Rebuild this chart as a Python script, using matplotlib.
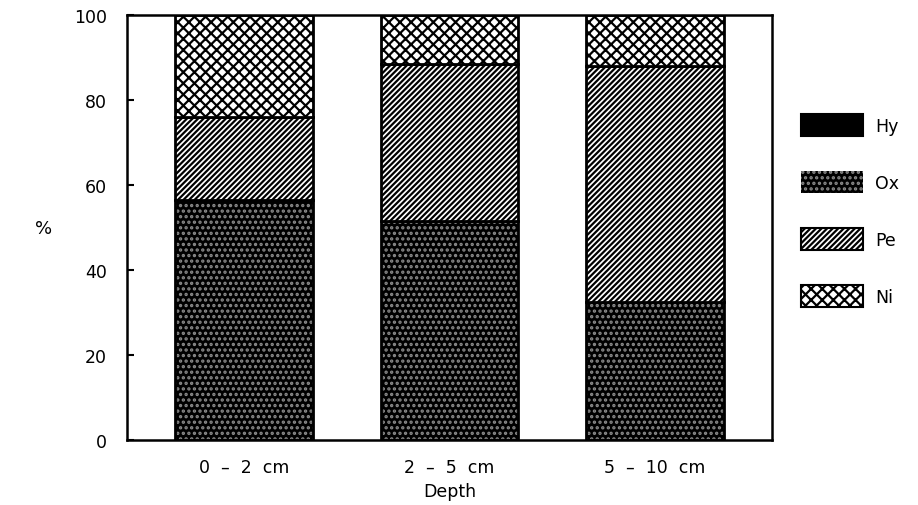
import matplotlib
matplotlib.use("Agg")
import matplotlib.pyplot as plt
from matplotlib.patches import Patch
import numpy as np

categories = ["0  \u2013  2  cm", "2  \u2013  5  cm", "5  \u2013  10  cm"]
hy = [0.0, 0.0, 0.0]
ox = [56.5, 51.5, 32.5]
pe = [19.5, 37.0, 55.5]
ni = [24.0, 11.5, 12.0]
series_names = ["Hy", "Ox", "Pe", "Ni"]
y_ticks = [0, 20, 40, 60, 80, 100]

plt.rcParams['font.family'] = ['DejaVu Sans']
plt.rcParams['hatch.linewidth'] = 1.6

fig = plt.figure(figsize=(9.18, 5.06), dpi=100)
ax = fig.add_axes([0.138, 0.128, 0.703, 0.840])

x = np.arange(len(categories))
w = 0.67
bottom = np.zeros(len(categories))

dot_color = '#8a8a8a'

# Hy (solid black)
ax.bar(x, hy, w, bottom=bottom, color='black', edgecolor='black', linewidth=1.5)
bottom += np.array(hy)
# Ox (black with light dots)
ax.bar(x, ox, w, bottom=bottom, color='black', edgecolor=dot_color, hatch='...', linewidth=0)
ax.bar(x, ox, w, bottom=bottom, color='none', edgecolor='black', linewidth=2)
bottom += np.array(ox)
# Pe (diagonal hatch)
ax.bar(x, pe, w, bottom=bottom, color='white', edgecolor='black', hatch='//////', linewidth=2)
bottom += np.array(pe)
# Ni (cross hatch)
ax.bar(x, ni, w, bottom=bottom, color='white', edgecolor='black', hatch='xxx', linewidth=2)

ax.set_xlim(-0.57, 2.57)
ax.set_ylim(0, 100)
ax.set_yticks(y_ticks)
ax.set_yticklabels([str(t) for t in y_ticks], fontsize=12.5)
ax.set_xticks(x)
ax.set_xticklabels(categories, fontsize=12.5)
ax.tick_params(axis='x', length=0, pad=13)
ax.tick_params(axis='y', direction='in', length=5, width=1.5, pad=14)
for s in ax.spines.values():
    s.set_linewidth(1.8)
ax.set_xlabel("Depth", fontsize=12.5, labelpad=4)
ax.set_ylabel("%", fontsize=13, rotation=0, labelpad=22, va='center')

handles = [
    Patch(facecolor='black', edgecolor='black', linewidth=1.5),
    Patch(facecolor='black', edgecolor=dot_color, hatch='...', linewidth=0),
    Patch(facecolor='white', edgecolor='black', hatch='//////', linewidth=1.5),
    Patch(facecolor='white', edgecolor='black', hatch='xxx', linewidth=1.5),
]
leg = ax.legend(handles, series_names, loc='center left', bbox_to_anchor=(1.02, 0.54),
                frameon=False, fontsize=12.5, handlelength=3.6, handleheight=1.6,
                labelspacing=2.0, handletextpad=0.7)

fig.savefig("out.png", dpi=100)
